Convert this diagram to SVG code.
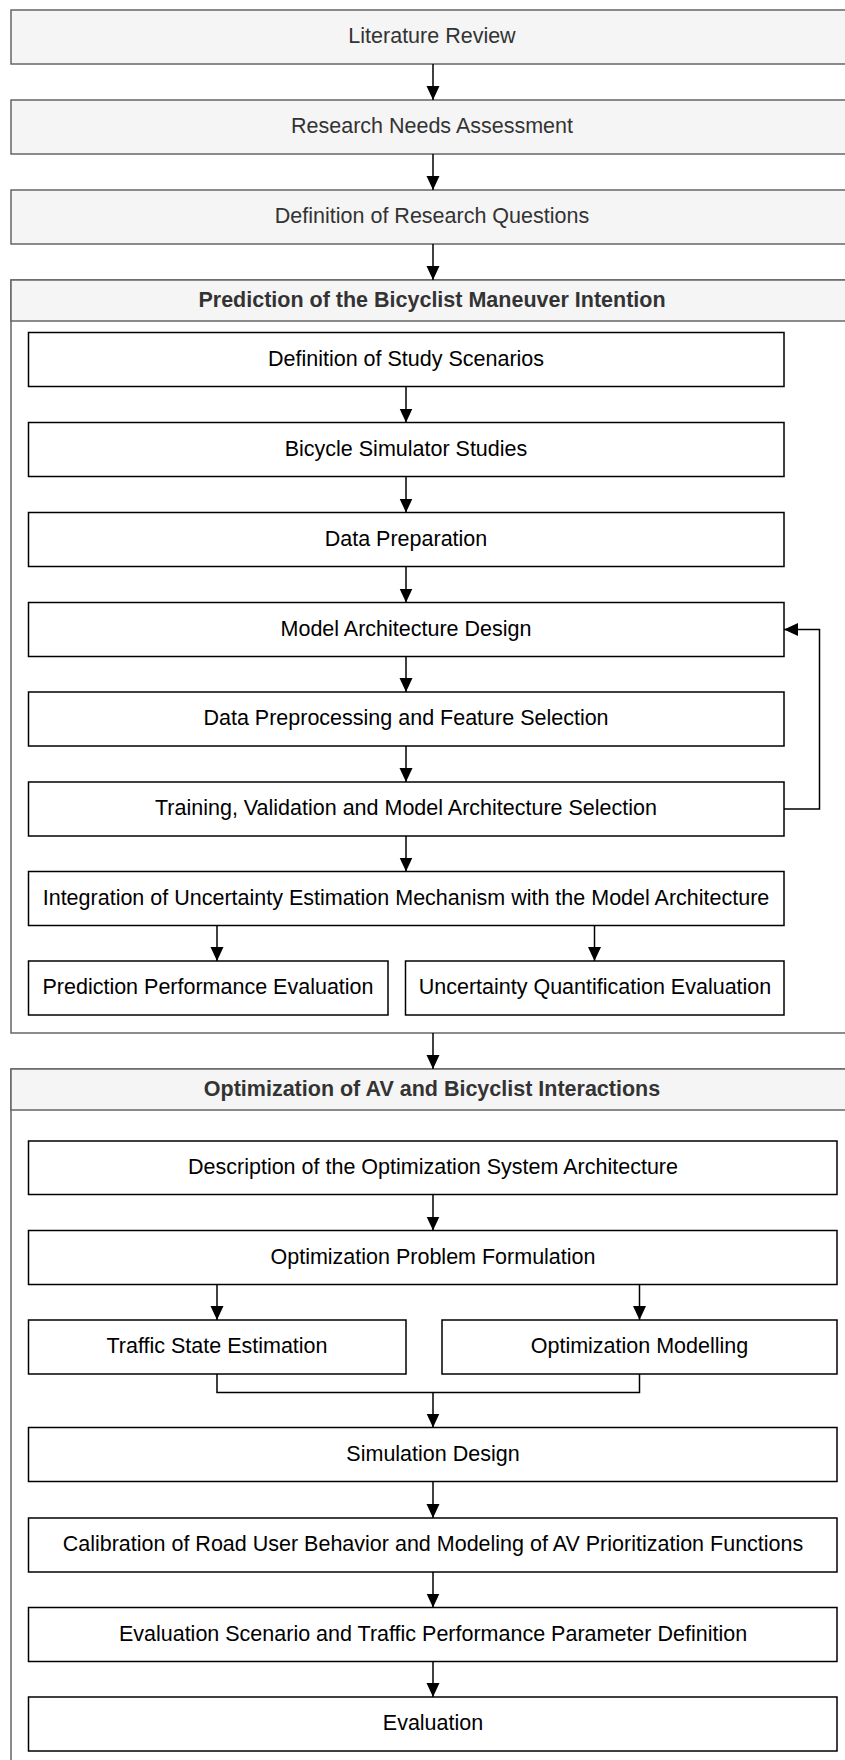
<svg xmlns="http://www.w3.org/2000/svg" width="845" height="1760" viewBox="0 0 845 1760">
  <style>
    .outer { fill: #f5f5f5; stroke: #666666; stroke-width: 1.5; }
    .frame { fill: #ffffff; stroke: #666666; stroke-width: 1.5; }
    .step { fill: #ffffff; stroke: #000000; stroke-width: 1.5; }
    .t { font-family: "Liberation Sans", Arial, sans-serif; font-size: 21.5px; text-anchor: middle; }
    .tg { fill: #333333; }
    .tb { fill: #333333; font-weight: bold; }
    .tk { fill: #000000; }
    .edge { fill: none; stroke: #000000; stroke-width: 1.5; }
  </style>
  <defs>
    <marker id="arrow" markerUnits="userSpaceOnUse" markerWidth="15" markerHeight="14" refX="14" refY="6.5" orient="auto">
      <path d="M0,0 L14,6.5 L0,13 z" fill="#000000"/>
    </marker>
  </defs>
  <rect width="845" height="1760" fill="#ffffff"/>

  <!-- top-level stages -->
  <g id="literature-review">
    <rect class="outer" x="11" y="10" width="842" height="54"/>
    <text class="t tg" x="432" y="43">Literature Review</text>
  </g>
  <g id="research-needs">
    <rect class="outer" x="11" y="100" width="842" height="54"/>
    <text class="t tg" x="432" y="133">Research Needs Assessment</text>
  </g>
  <g id="research-questions">
    <rect class="outer" x="11" y="190" width="842" height="54"/>
    <text class="t tg" x="432" y="223">Definition of Research Questions</text>
  </g>

  <!-- container: prediction -->
  <g id="prediction">
    <rect class="frame" x="11" y="280" width="842" height="753"/>
    <rect class="outer" x="11" y="280" width="842" height="41"/>
    <text class="t tb" x="432" y="307">Prediction of the Bicyclist Maneuver Intention</text>
  </g>
  <g id="study-scenarios">
    <rect class="step" x="28.5" y="332.5" width="755.5" height="54"/>
    <text class="t tk" x="406" y="365.5">Definition of Study Scenarios</text>
  </g>
  <g id="simulator-studies">
    <rect class="step" x="28.5" y="422.5" width="755.5" height="54"/>
    <text class="t tk" x="406" y="455.5">Bicycle Simulator Studies</text>
  </g>
  <g id="data-preparation">
    <rect class="step" x="28.5" y="512.5" width="755.5" height="54"/>
    <text class="t tk" x="406" y="545.5">Data Preparation</text>
  </g>
  <g id="architecture-design">
    <rect class="step" x="28.5" y="602.5" width="755.5" height="54"/>
    <text class="t tk" x="406" y="635.5">Model Architecture Design</text>
  </g>
  <g id="preprocessing">
    <rect class="step" x="28.5" y="692" width="755.5" height="54"/>
    <text class="t tk" x="406" y="725">Data Preprocessing and Feature Selection</text>
  </g>
  <g id="training">
    <rect class="step" x="28.5" y="782" width="755.5" height="54"/>
    <text class="t tk" x="406" y="815">Training, Validation and Model Architecture Selection</text>
  </g>
  <g id="uncertainty-integration">
    <rect class="step" x="28.5" y="871.5" width="755.5" height="54"/>
    <text class="t tk" x="406" y="904.5">Integration of Uncertainty Estimation Mechanism with the Model Architecture</text>
  </g>
  <g id="prediction-eval">
    <rect class="step" x="28.5" y="961" width="359.5" height="54"/>
    <text class="t tk" x="208" y="994">Prediction Performance Evaluation</text>
  </g>
  <g id="uncertainty-eval">
    <rect class="step" x="405.5" y="961" width="378.5" height="54"/>
    <text class="t tk" x="595" y="994">Uncertainty Quantification Evaluation</text>
  </g>

  <!-- container: optimization -->
  <g id="optimization">
    <rect class="frame" x="11" y="1069" width="842" height="720"/>
    <rect class="outer" x="11" y="1069" width="842" height="41"/>
    <text class="t tb" x="432" y="1096">Optimization of AV and Bicyclist Interactions</text>
  </g>
  <g id="system-architecture">
    <rect class="step" x="28.5" y="1141" width="808.5" height="53.5"/>
    <text class="t tk" x="433" y="1174">Description of the Optimization System Architecture</text>
  </g>
  <g id="problem-formulation">
    <rect class="step" x="28.5" y="1230.5" width="808.5" height="54"/>
    <text class="t tk" x="433" y="1263.5">Optimization Problem Formulation</text>
  </g>
  <g id="traffic-state">
    <rect class="step" x="28.5" y="1320" width="377.5" height="54"/>
    <text class="t tk" x="217" y="1353">Traffic State Estimation</text>
  </g>
  <g id="optimization-modelling">
    <rect class="step" x="442" y="1320" width="395" height="54"/>
    <text class="t tk" x="639.5" y="1353">Optimization Modelling</text>
  </g>
  <g id="simulation-design">
    <rect class="step" x="28.5" y="1427.5" width="808.5" height="54"/>
    <text class="t tk" x="433" y="1460.5">Simulation Design</text>
  </g>
  <g id="calibration">
    <rect class="step" x="28.5" y="1518" width="808.5" height="54"/>
    <text class="t tk" x="433" y="1551">Calibration of Road User Behavior and Modeling of AV Prioritization Functions</text>
  </g>
  <g id="evaluation-scenario">
    <rect class="step" x="28.5" y="1607.5" width="808.5" height="54"/>
    <text class="t tk" x="433" y="1640.5">Evaluation Scenario and Traffic Performance Parameter Definition</text>
  </g>
  <g id="evaluation">
    <rect class="step" x="28.5" y="1697" width="808.5" height="54"/>
    <text class="t tk" x="433" y="1730">Evaluation</text>
  </g>

  <!-- connectors -->
  <g id="connectors">
    <path class="edge" d="M433,64 V100" marker-end="url(#arrow)"/>
    <path class="edge" d="M433,154 V190" marker-end="url(#arrow)"/>
    <path class="edge" d="M433,244 V280" marker-end="url(#arrow)"/>
    <path class="edge" d="M406,386.5 V422.5" marker-end="url(#arrow)"/>
    <path class="edge" d="M406,476.5 V512.5" marker-end="url(#arrow)"/>
    <path class="edge" d="M406,566.5 V602.5" marker-end="url(#arrow)"/>
    <path class="edge" d="M406,656.5 V692" marker-end="url(#arrow)"/>
    <path class="edge" d="M406,746 V782" marker-end="url(#arrow)"/>
    <path class="edge" d="M406,836 V871.5" marker-end="url(#arrow)"/>
    <path class="edge" d="M784,809 H819.5 V629.5 H784" marker-end="url(#arrow)"/>
    <path class="edge" d="M217,925.5 V961" marker-end="url(#arrow)"/>
    <path class="edge" d="M594.5,925.5 V961" marker-end="url(#arrow)"/>
    <path class="edge" d="M433,1033 V1069" marker-end="url(#arrow)"/>
    <path class="edge" d="M433,1194.5 V1230.5" marker-end="url(#arrow)"/>
    <path class="edge" d="M217,1284.5 V1320" marker-end="url(#arrow)"/>
    <path class="edge" d="M639.5,1284.5 V1320" marker-end="url(#arrow)"/>
    <path class="edge" d="M217,1374 V1392.5 H639.5 V1374"/>
    <path class="edge" d="M433,1392.5 V1427.5" marker-end="url(#arrow)"/>
    <path class="edge" d="M433,1481.5 V1518" marker-end="url(#arrow)"/>
    <path class="edge" d="M433,1572 V1607.5" marker-end="url(#arrow)"/>
    <path class="edge" d="M433,1661.5 V1697" marker-end="url(#arrow)"/>
  </g>
</svg>
